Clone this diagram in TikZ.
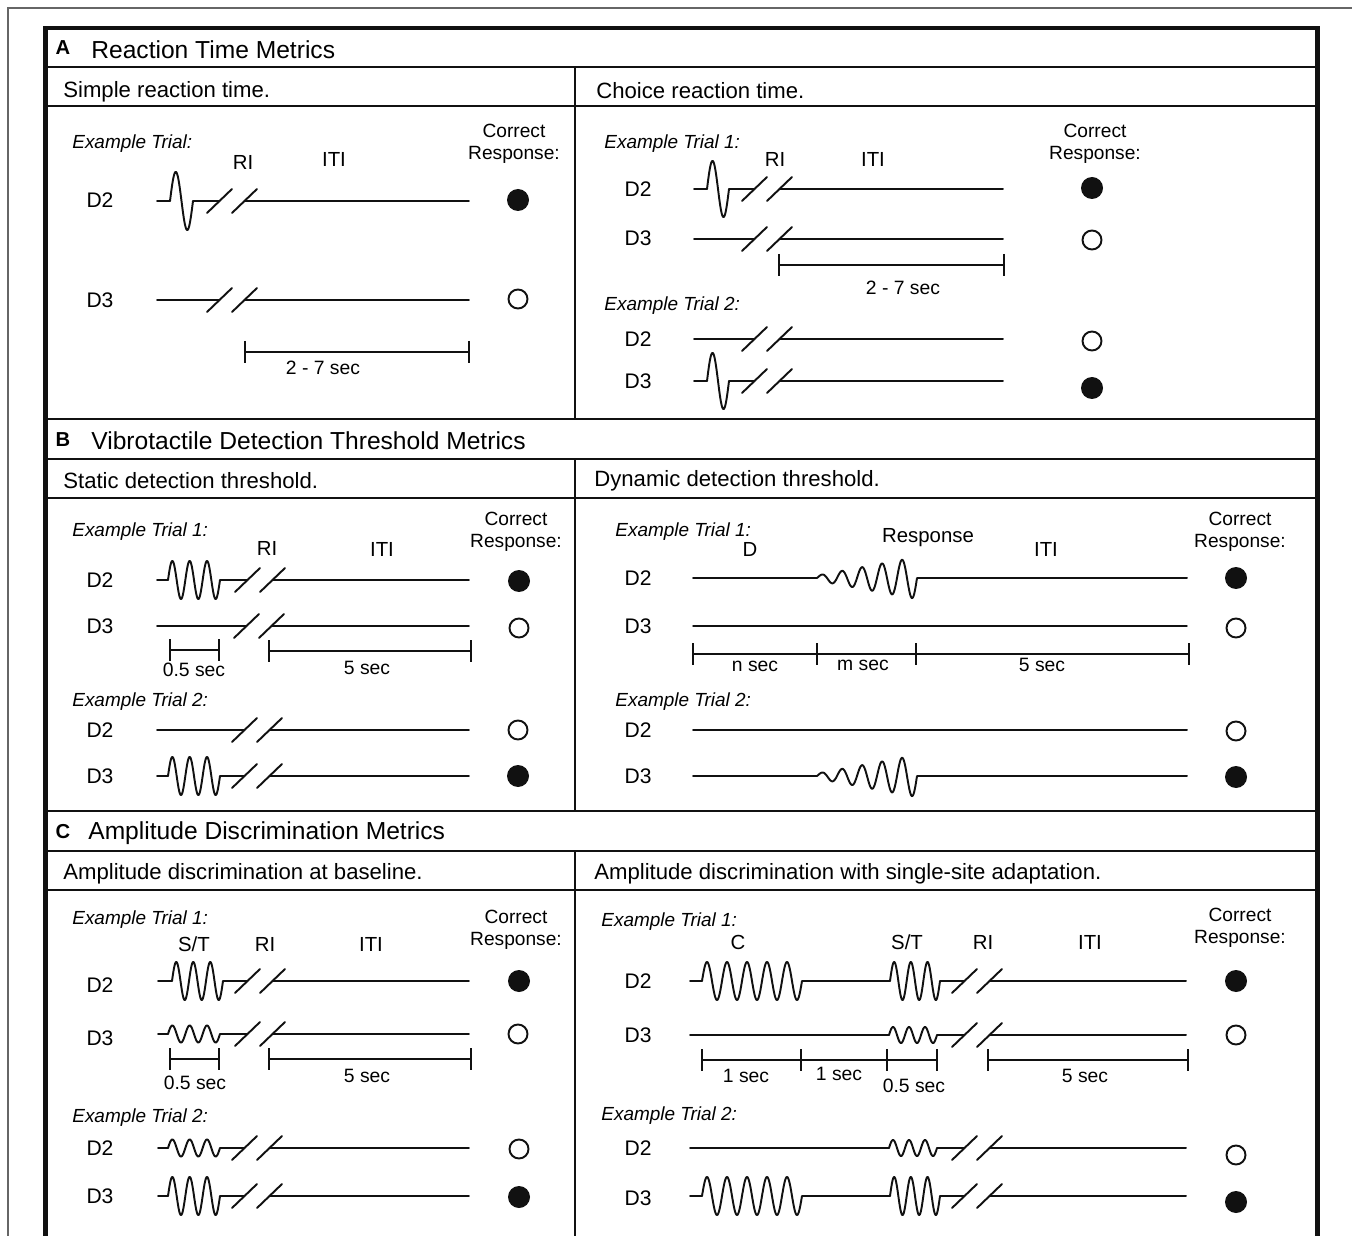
\documentclass[tikz,border=0pt]{standalone}
\usepackage{fontspec}
\setmainfont{Liberation Sans}
\usetikzlibrary{arrows.meta}
\definecolor{cInk}{HTML}{111111}
\definecolor{cRule}{HTML}{666666}
\tikzset{
  sig/.style ={line width=1.1pt,cInk,line join=round,line cap=round},
  tbar/.style={line width=1.2pt,cInk},
  rule/.style={line width=1.3pt,cInk},
  frame/.style={line width=2.4pt,cInk,line join=miter},
  tag/.style ={font=\fontsize{11.5}{13}\selectfont\bfseries,inner sep=0pt},
  hd/.style  ={anchor=west,font=\fontsize{14}{16}\selectfont,inner sep=0pt},
  sub/.style ={anchor=west,font=\fontsize{12.6}{15}\selectfont,inner sep=0pt,yshift=-0.04cm},
  ex/.style  ={anchor=west,font=\fontsize{10.8}{13}\selectfont\itshape,inner sep=0pt,yshift=-0.06cm},
  chan/.style={font=\fontsize{12}{14}\selectfont,inner sep=0pt},
  lbl/.style ={font=\fontsize{11.6}{14}\selectfont,inner sep=0pt},
  tlbl/.style={font=\fontsize{11}{13}\selectfont,inner sep=0pt},
  cr/.style  ={align=center,font=\fontsize{10.9}{12.5}\selectfont,inner sep=0pt,yshift=-0.06cm},
  fdot/.style={circle,fill=cInk,minimum size=0.44cm,inner sep=0pt},
  odot/.style={circle,draw=cInk,line width=1.1pt,minimum size=0.38cm,inner sep=0pt},
}
% waveforms: x0, y, width, cycles, amplitude
\newcommand\wavep[5]{\draw[sig] plot[domain=0:1,samples=160] ({#1+#3*\x},{#2-#5*sin(360*#4*\x)});}
\newcommand\rampp[5]{\draw[sig] plot[domain=0:1,samples=200] ({#1+#3*\x},{#2-#5*(0.12+0.88*\x)*sin(360*#4*\x)});}
% break mark centred at x, y
\newcommand\brk[2]{\draw[sig] ({#1-25},{#2+12}) -- ({#1},{#2-12}) ({#1},{#2+12}) -- ({#1+25},{#2-12});}
\newcommand\brkto[3]{\brk{#1}{#2}\draw[sig] ({#1+12.5},#2) -- (#3,#2);}
% time span with end ticks
\newcommand\tick[2]{\draw[tbar] (#1,{#2-11}) -- (#1,{#2+11});}
\newcommand\tspan[3]{\draw[tbar] (#1,#3) -- (#2,#3); \tick{#1}{#3}\tick{#2}{#3}}

\begin{document}
\begin{tikzpicture}[x=0.02cm,y=-0.02cm]
\useasboundingbox (0,0) rectangle (1352,1236);
\clip (0,0) rectangle (1352,1236);

% frames and rules
\draw[cRule,line width=0.6pt] (8,1250) -- (8,8) -- (1360,8);
\draw[frame] (45.5,1260) -- (45.5,28) -- (1317.5,28) -- (1317.5,1260);
\foreach \y in {67,106,419,459,498,811,851,890}
  \draw[rule] (45.5,\y) -- (1317.5,\y);
\draw[rule] (575,67) -- (575,419) (575,459) -- (575,811) (575,851) -- (575,1260);

% headers
\node[tag] (tA) at (63,48)  {A};
\node[hd]  (hA) at (91,50)  {Reaction Time Metrics};
\node[tag] (tB) at (63,440) {B};
\node[hd]  (hB) at (91,441) {Vibrotactile Detection Threshold Metrics};
\node[tag] (tC) at (63,832) {C};
\node[hd]  (hC) at (88,833) {Amplitude Discrimination Metrics};
\node[sub] (sA1) at (63,90)  {Simple reaction time.};
\node[sub] (sA2) at (596,89) {Choice reaction time.};
\node[sub] (sB1) at (63,479) {Static detection threshold.};
\node[sub] (sB2) at (594,479){Dynamic detection threshold.};
\node[sub] (sC1) at (63,872) {Amplitude discrimination at baseline.};
\node[sub] (sC2) at (594,872){Amplitude discrimination with single-site adaptation.};

%% A: simple reaction time
\node[ex]   (exA1) at (72,141)  {Example Trial:};
\node[lbl]  (riA1) at (243,162) {RI};
\node[lbl]  (itA1) at (334,159) {ITI};
\node[cr]   (crA1) at (514,141) {Correct\\Response:};
\node[chan] (a1d2) at (100,200) {D2};
\node[chan] (a1d3) at (100,300) {D3};
\draw[sig] (157,201) -- (170,201); \wavep{170}{201}{23}{1}{29}
\draw[sig] (193,201) -- (219.5,201); \brkto{232}{201}{469}
\draw[sig] (157,300) -- (219.5,300); \brkto{232}{300}{469}
\node[fdot] (a1r2) at (518,200) {};
\node[odot] (a1r3) at (518,299) {};
\tspan{245}{469}{352}
\node[tlbl] (a1t) at (323,368) {2 - 7 sec};

%% A: choice reaction time
\node[ex]   (exA2) at (604,141) {Example Trial 1:};
\node[lbl]  (riA2) at (775,159) {RI};
\node[lbl]  (itA2) at (873,159) {ITI};
\node[cr]   (crA2) at (1095,141){Correct\\Response:};
\node[chan] (a2d2) at (638,189) {D2};
\node[chan] (a2d3) at (638,238) {D3};
\draw[sig] (694,189) -- (707,189); \wavep{707}{189}{22}{1}{28}
\draw[sig] (729,189) -- (754.5,189); \brkto{767}{189}{1003}
\draw[sig] (694,239) -- (754.5,239); \brkto{767}{239}{1003}
\node[fdot] (a2r2) at (1092,188) {};
\node[odot] (a2r3) at (1092,240) {};
\tspan{779}{1004}{265}
\node[tlbl] (a2t) at (903,288) {2 - 7 sec};
\node[ex]   (exA3) at (604,303) {Example Trial 2:};
\node[chan] (a3d2) at (638,339) {D2};
\node[chan] (a3d3) at (638,381) {D3};
\draw[sig] (694,339) -- (754.5,339); \brkto{767}{339}{1003}
\draw[sig] (694,381) -- (707,381); \wavep{707}{381}{22}{1}{28}
\draw[sig] (729,381) -- (754.5,381); \brkto{767}{381}{1003}
\node[odot] (a3r2) at (1092,341) {};
\node[fdot] (a3r3) at (1092,388) {};

%% B: static detection threshold
\node[ex]   (exB1) at (72,529)  {Example Trial 1:};
\node[lbl]  (riB1) at (267,548) {RI};
\node[lbl]  (itB1) at (382,549) {ITI};
\node[cr]   (crB1) at (516,529) {Correct\\Response:};
\node[chan] (b1d2) at (100,580) {D2};
\node[chan] (b1d3) at (100,626) {D3};
\draw[sig] (157,580) -- (168,580); \wavep{168}{580}{52}{3}{19}
\draw[sig] (220,580) -- (247.5,580); \brkto{260}{580}{469}
\draw[sig] (157,626) -- (246.5,626); \brkto{259}{626}{469}
\node[fdot] (b1r2) at (519,581) {};
\node[odot] (b1r3) at (519,628) {};
\tspan{170}{219}{650}
\node[tlbl] (b1t1) at (194,670) {0.5 sec};
\tspan{269}{471}{651}
\node[tlbl] (b1t2) at (367,668) {5 sec};
\node[ex]   (exB2) at (72,699)  {Example Trial 2:};
\node[chan] (b2d2) at (100,730) {D2};
\node[chan] (b2d3) at (100,776) {D3};
\draw[sig] (157,730) -- (244.5,730); \brkto{257}{730}{469}
\draw[sig] (157,776) -- (168,776); \wavep{168}{776}{52}{3}{19}
\draw[sig] (220,776) -- (244.5,776); \brkto{257}{776}{469}
\node[odot] (b2r2) at (518,730) {};
\node[fdot] (b2r3) at (518,776) {};

%% B: dynamic detection threshold
\node[ex]   (exB3) at (615,529)  {Example Trial 1:};
\node[lbl]  (dB3)  at (750,549)  {D};
\node[lbl]  (rsB3) at (928,538)  {Response};
\node[lbl]  (itB3) at (1046,549) {ITI};
\node[cr]   (crB3) at (1240,529) {Correct\\Response:};
\node[chan] (b3d2) at (638,578) {D2};
\node[chan] (b3d3) at (638,626) {D3};
\draw[sig] (693,578) -- (817,578); \rampp{817}{578}{100}{5}{21}
\draw[sig] (917,578) -- (1187,578);
\draw[sig,line width=0.8pt] (693,626) -- (1187,626);
\node[fdot] (b3r2) at (1236,578) {};
\node[odot] (b3r3) at (1236,628) {};
\tspan{693}{1189}{654} \tick{817}{654} \tick{916}{654}
\node[tlbl] (b3t1) at (755,666)  {n sec};
\node[tlbl] (b3t2) at (863,665)  {m sec};
\node[tlbl] (b3t3) at (1042,665) {5 sec};
\node[ex]   (exB4) at (615,699)  {Example Trial 2:};
\node[chan] (b4d2) at (638,730) {D2};
\node[chan] (b4d3) at (638,776) {D3};
\draw[sig] (693,730) -- (1187,730);
\draw[sig] (693,776) -- (817,776); \rampp{817}{776}{100}{5}{21}
\draw[sig] (917,776) -- (1187,776);
\node[odot] (b4r2) at (1236,731) {};
\node[fdot] (b4r3) at (1236,777) {};

%% C: amplitude discrimination at baseline
\node[ex]   (exC1) at (72,917)  {Example Trial 1:};
\node[lbl]  (stC1) at (194,944) {S/T};
\node[lbl]  (riC1) at (265,944) {RI};
\node[lbl]  (itC1) at (371,944) {ITI};
\node[cr]   (crC1) at (516,927) {Correct\\Response:};
\node[chan] (c1d2) at (100,985)  {D2};
\node[chan] (c1d3) at (100,1038) {D3};
\draw[sig] (158,981) -- (172,981); \wavep{172}{981}{51}{3}{19}
\draw[sig] (223,981) -- (247.5,981); \brkto{260}{981}{469}
\draw[sig] (158,1034) -- (168,1034); \wavep{168}{1034}{52}{3}{8.5}
\draw[sig] (220,1034) -- (247.5,1034); \brkto{260}{1034}{469}
\node[fdot] (c1r2) at (519,981) {};
\node[odot] (c1r3) at (518,1034) {};
\tspan{170}{219}{1059}
\node[tlbl] (c1t1) at (195,1083) {0.5 sec};
\tspan{269}{471}{1059}
\node[tlbl] (c1t2) at (367,1076) {5 sec};
\node[ex]   (exC2) at (72,1115)  {Example Trial 2:};
\node[chan] (c2d2) at (100,1148) {D2};
\node[chan] (c2d3) at (100,1196) {D3};
\draw[sig] (158,1148) -- (168,1148); \wavep{168}{1148}{52}{3}{8.5}
\draw[sig] (220,1148) -- (244.5,1148); \brkto{257}{1148}{469}
\draw[sig] (158,1196) -- (168,1196); \wavep{168}{1196}{52}{3}{19}
\draw[sig] (220,1196) -- (244.5,1196); \brkto{257}{1196}{469}
\node[odot] (c2r2) at (519,1149) {};
\node[fdot] (c2r3) at (519,1197) {};

%% C: amplitude discrimination with single-site adaptation
\node[ex]   (exC3) at (601,919)  {Example Trial 1:};
\node[lbl]  (cC3)  at (738,942)  {C};
\node[lbl]  (stC3) at (907,942)  {S/T};
\node[lbl]  (riC3) at (983,942)  {RI};
\node[lbl]  (itC3) at (1090,942) {ITI};
\node[cr]   (crC3) at (1240,925) {Correct\\Response:};
\node[chan] (c3d2) at (638,981)  {D2};
\node[chan] (c3d3) at (638,1035) {D3};
\draw[sig] (690,981) -- (702,981); \wavep{702}{981}{100}{5}{19}
\draw[sig] (802,981) -- (890,981); \wavep{890}{981}{50}{3}{19}
\draw[sig] (940,981) -- (964.5,981); \brkto{977}{981}{1186}
\draw[sig] (690,1035) -- (889,1035); \wavep{889}{1035}{48}{3}{8}
\draw[sig] (937,1035) -- (964.5,1035); \brkto{977}{1035}{1186}
\node[fdot] (c3r2) at (1236,981)  {};
\node[odot] (c3r3) at (1236,1035) {};
\tspan{702}{937}{1060} \tick{801}{1060} \tick{887}{1060}
\node[tlbl] (c3t1) at (746,1076) {1 sec};
\node[tlbl] (c3t2) at (839,1074) {1 sec};
\node[tlbl] (c3t3) at (914,1086) {0.5 sec};
\tspan{988}{1188}{1060}
\node[tlbl] (c3t4) at (1085,1076) {5 sec};
\node[ex]   (exC4) at (601,1113) {Example Trial 2:};
\node[chan] (c4d2) at (638,1148) {D2};
\node[chan] (c4d3) at (638,1198) {D3};
\draw[sig] (690,1148) -- (889,1148); \wavep{889}{1148}{48}{3}{8}
\draw[sig] (937,1148) -- (964.5,1148); \brkto{977}{1148}{1186}
\draw[sig] (690,1196) -- (702,1196); \wavep{702}{1196}{100}{5}{19}
\draw[sig] (802,1196) -- (890,1196); \wavep{890}{1196}{50}{3}{19}
\draw[sig] (940,1196) -- (964.5,1196); \brkto{977}{1196}{1186}
\node[odot] (c4r2) at (1236,1155) {};
\node[fdot] (c4r3) at (1236,1202) {};
\end{tikzpicture}
\end{document}
